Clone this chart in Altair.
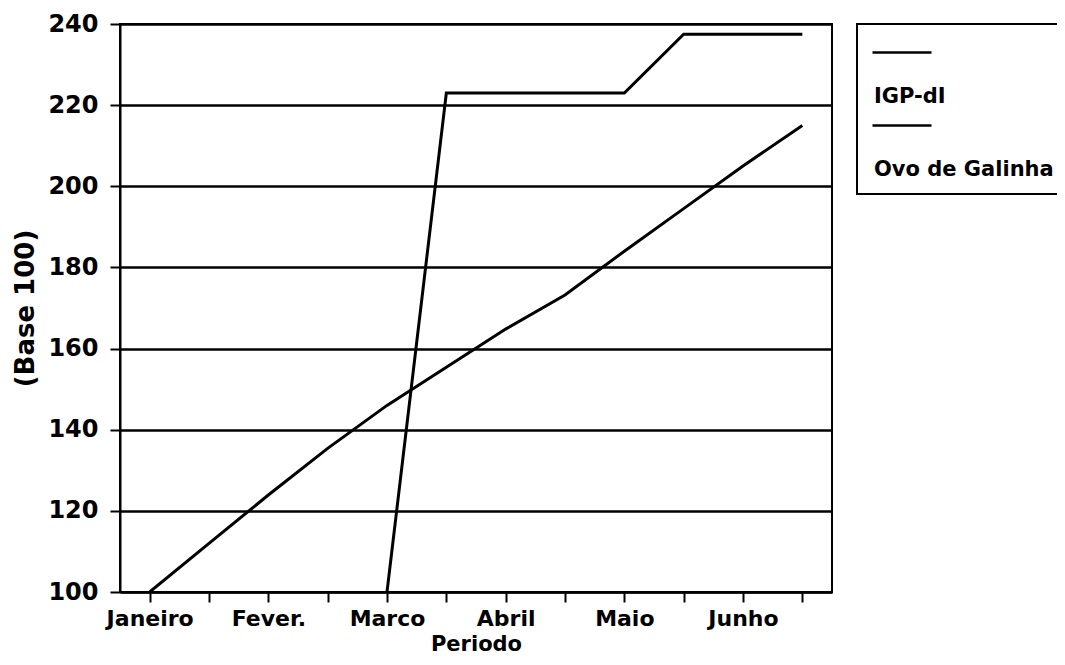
import altair as alt
import pandas as pd

# ---- data ----
periodo = list(range(12))
igp_di = [100, 112, 123.9, 135.4, 146, 155.4, 164.8, 173.2, 184, 194.5, 205, 215]
ovo_galinha = [None, None, None, None, 100, 223, 223, 223, 223, 237.5, 237.5, 237.5]
series_names = ["IGP-dI", "Ovo de Galinha"]
month_labels = ["Janeiro", "Fever.", "Marco", "Abril", "Maio", "Junho"]
y_ticks = [100, 120, 140, 160, 180, 200, 220, 240]

rows = []
for i, v in zip(periodo, igp_di):
    rows.append({"p": i, "v": v, "serie": series_names[0]})
for i, v in zip(periodo, ovo_galinha):
    if v is not None:
        rows.append({"p": i, "v": v, "serie": series_names[1]})
df = pd.DataFrame(rows)

label_js = "[" + ",".join("'" + m + "'" for m in month_labels) + "]"
x_label_expr = f"datum.value % 2 == 0 ? {label_js}[datum.value / 2] : ''"

FONT = "DejaVu Sans"

chart = (
    alt.Chart(df)
    .mark_line(strokeWidth=3, clip=True)
    .encode(
        x=alt.X(
            "p:Q",
            scale=alt.Scale(domain=[-0.5, 11.5], nice=False, zero=False),
            axis=alt.Axis(
                title="Periodo",
                values=periodo,
                labelExpr=x_label_expr,
                grid=False,
                tickSize=10,
                tickWidth=2,
                labelPadding=6,
                labelFontSize=22,
                titleFontSize=21,
                titlePadding=4,
            ),
        ),
        y=alt.Y(
            "v:Q",
            scale=alt.Scale(domain=[100, 240], nice=False, zero=False),
            axis=alt.Axis(
                title="(Base 100)",
                values=y_ticks,
                grid=True,
                gridWidth=2.5,
                tickSize=10,
                tickWidth=2,
                labelPadding=12,
                labelFontSize=24,
                titleFontSize=26,
                titlePadding=9,
            ),
        ),
        color=alt.Color(
            "serie:N",
            scale=alt.Scale(domain=series_names, range=["black", "black"]),
            legend=alt.Legend(
                title=None,
                orient="none",
                legendX=737,
                legendY=0,
                symbolType="M-1.0,-0.447L1.51,-0.447",
                symbolSize=2209,
                symbolStrokeWidth=2.5,
                symbolFillColor="transparent",
                symbolStrokeColor="black",
                labelOffset={"expr": "-47"},
                labelExpr="['', datum.label]",
                labelBaseline="top",
                labelFontSize=21,
                labelFont=FONT,
                labelFontWeight="bold",
                labelColor="black",
                labelLimit=400,
                rowPadding=4,
                padding=14,
                strokeColor="black",
                fillColor="white",
            ),
        ),
    )
    .properties(
        width=712,
        height=568,
        autosize=alt.AutoSizeParams(type="none"),
        padding={"left": 112, "top": 16, "right": 225, "bottom": 63},
        background="white",
    )
    .configure_view(stroke="black", strokeWidth=2)
    .configure_axis(
        domainColor="black",
        domainWidth=2,
        tickColor="black",
        gridColor="black",
        labelColor="black",
        titleColor="black",
        labelFont=FONT,
        titleFont=FONT,
        labelFontWeight="bold",
        titleFontWeight="bold",
    )
    .configure_legend(strokeWidth=2)
)

chart.save("out.html", embed_options={"renderer": "svg", "actions": False})
